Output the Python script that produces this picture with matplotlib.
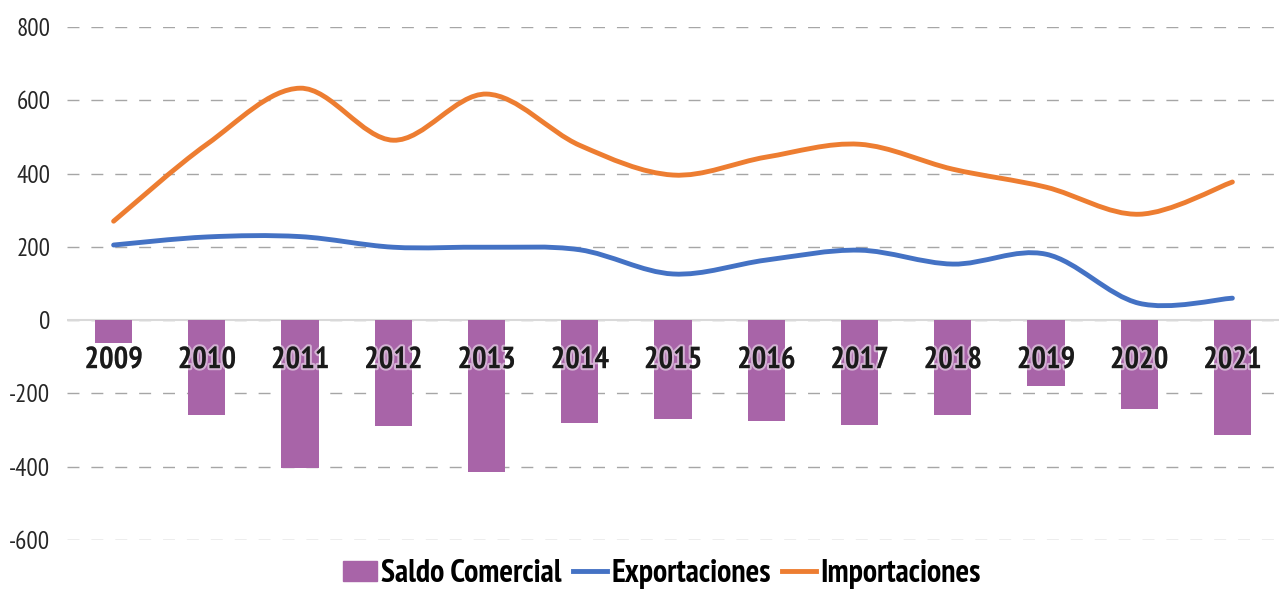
import matplotlib
matplotlib.use('Agg')
import matplotlib.pyplot as plt
import matplotlib.patheffects as pe
from matplotlib.path import Path
from matplotlib.patches import PathPatch, Patch
from matplotlib.lines import Line2D
import numpy as np

plt.rcParams['font.family'] = ['PT Sans Narrow', 'DejaVu Sans']
plt.rcParams['axes.unicode_minus'] = False

# Datos
anios = ['2009', '2010', '2011', '2012', '2013', '2014', '2015',
         '2016', '2017', '2018', '2019', '2020', '2021']
exportaciones = [205, 227, 228, 199, 199, 192, 126, 164, 191, 153, 180, 46, 60]
importaciones = [270, 480, 633, 491, 617, 477, 396, 445, 480, 412, 363, 289, 377]
saldo = [-63, -259, -404, -289, -415, -281, -270, -276, -287, -259, -180, -243, -314]

morado = '#A864A8'
azul = '#4472C4'
naranja = '#ED7D31'


def curva_suave(xs, ys):
    # curva tipo Catmull-Rom con segmentos Bezier (linea suavizada estilo Excel)
    pts = np.column_stack([xs, ys]).astype(float)
    n = len(pts)
    verts = [pts[0]]
    codes = [Path.MOVETO]
    for i in range(n - 1):
        p0 = pts[i - 1] if i > 0 else pts[i]
        p1 = pts[i]
        p2 = pts[i + 1]
        p3 = pts[i + 2] if i + 2 < n else pts[i + 1]
        verts += [p1 + (p2 - p0) / 6.0, p2 - (p3 - p1) / 6.0, p2]
        codes += [Path.CURVE4] * 3
    return Path(verts, codes)


fig = plt.figure(figsize=(12.88, 5.91), dpi=100)
ax = fig.add_axes([67 / 1288, 1 - 540 / 591, (1279 - 67) / 1288, (540 - 27) / 591])

x = np.arange(len(anios))
ax.bar(x, saldo, width=0.4, color=morado, zorder=2)

for serie, color in [(exportaciones, azul), (importaciones, naranja)]:
    ax.add_patch(PathPatch(curva_suave(x, serie), facecolor='none', edgecolor=color,
                           lw=3.5, capstyle='round', zorder=3))

ax.axhline(0, color='#D9D9D9', lw=1.5, zorder=1)

ax.set_xlim(-0.5, len(anios) - 0.5)
ax.set_ylim(-600, 800)
ax.set_yticks(range(-600, 801, 200))
ax.yaxis.grid(True, color='#A6A6A6', linestyle=(0, (8.6, 8.6)), lw=1)
ax.set_axisbelow(True)
for s in ax.spines.values():
    s.set_visible(False)
ax.set_xticks([])
ax.tick_params(axis='y', length=0, pad=12, labelsize=18, labelcolor='#262626')

# etiquetas de los anios sobre las barras, justo bajo el cero
for i, a in enumerate(anios):
    ax.annotate(a, (i, 0), xytext=(0, -40), textcoords='offset pixels',
                ha='center', va='center', fontsize=22, fontweight='bold',
                color='#1A1A1A', zorder=5,
                path_effects=[pe.withStroke(linewidth=3, foreground=(1, 1, 1, 0.5))])

handles = [Patch(color=morado),
           Line2D([0], [0], color=azul, lw=3.5),
           Line2D([0], [0], color=naranja, lw=3.5)]
fig.legend(handles, ['Saldo Comercial', 'Exportaciones', 'Importaciones'],
           loc='center', bbox_to_anchor=(662 / 1288, 1 - 574 / 591), ncol=3,
           frameon=False, prop={'weight': 'bold', 'size': 23},
           handlelength=1.05, handleheight=0.6, handletextpad=0.15, columnspacing=0.35)

fig.savefig('out.png', dpi=100)
